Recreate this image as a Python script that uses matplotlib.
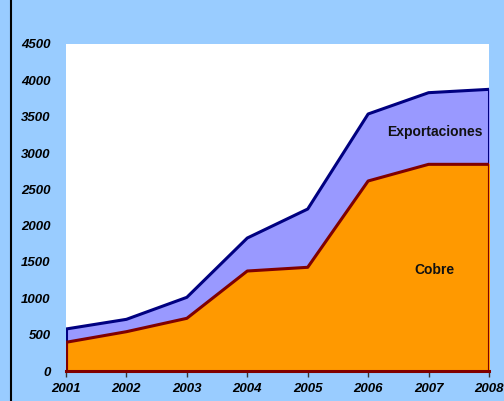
import numpy as np
import matplotlib.pyplot as plt
from matplotlib.lines import Line2D

plt.rcParams['font.family'] = ['Liberation Sans', 'DejaVu Sans']

# ----------------------------
# Data
# ----------------------------
years = [2001, 2002, 2003, 2004, 2005, 2006, 2007, 2008]
exportaciones = [578, 711, 1014, 1830, 2229, 3537, 3830, 3876]
cobre = [395, 541, 725, 1376, 1427, 2615, 2844, 2844]
yticks = [0, 500, 1000, 1500, 2000, 2500, 3000, 3500, 4000, 4500]

# ----------------------------
# Plot
# ----------------------------
fig = plt.figure(figsize=(5.04, 4.01), dpi=100, facecolor="#99CCFF")
ax = fig.add_axes([66/504, 1 - 371/401, 423/504, 327/401])
ax.set_facecolor("white")

ax.fill_between(years, 0, exportaciones, color="#9999FF", zorder=1)
ax.plot(years, exportaciones, color="#000080", lw=2.2, zorder=3)
ax.plot([years[0], years[0]], [0, exportaciones[0]], color="#000080", lw=2.2, zorder=3)
ax.plot([years[-1], years[-1]], [0, exportaciones[-1]], color="#000080", lw=2.2, zorder=3)

ax.fill_between(years, 0, cobre, color="#FF9900", zorder=2)
ax.plot(years, cobre, color="#800000", lw=2.2, zorder=4)
ax.plot([years[0], years[0]], [0, cobre[0]], color="#800000", lw=2.2, zorder=4)
ax.plot([years[-1], years[-1]], [0, cobre[-1]], color="#800000", lw=2.2, zorder=4)
ax.plot([years[0], years[-1]], [0, 0], color="#800000", lw=2.2, zorder=4, clip_on=False)

ax.set_xlim(years[0], years[-1])
ax.set_ylim(0, 4500)
ax.set_xticks(years)
ax.set_yticks(yticks)
ax.set_xticklabels([str(y) for y in years], fontsize=9.5, fontweight="bold", fontstyle="italic")
ax.set_yticklabels([str(v) for v in yticks], fontsize=9.5, fontweight="bold", fontstyle="italic")
ax.tick_params(axis="x", length=4, width=1, color="#333333", pad=5, direction="out")
ax.tick_params(axis="y", length=0, pad=11)
for s in ax.spines.values():
    s.set_visible(False)

ax.text(2007.1, 3290, "Exportaciones", ha="center", va="center", fontsize=10, fontweight="bold", color="#111111", zorder=5)
ax.text(2007.1, 1390, "Cobre", ha="center", va="center", fontsize=10, fontweight="bold", color="#111111", zorder=5)

# left border line
fig.add_artist(Line2D([11/504, 11/504], [0, 1], color="black", lw=1.5))

plt.savefig("out.png", dpi=100, facecolor=fig.get_facecolor())
